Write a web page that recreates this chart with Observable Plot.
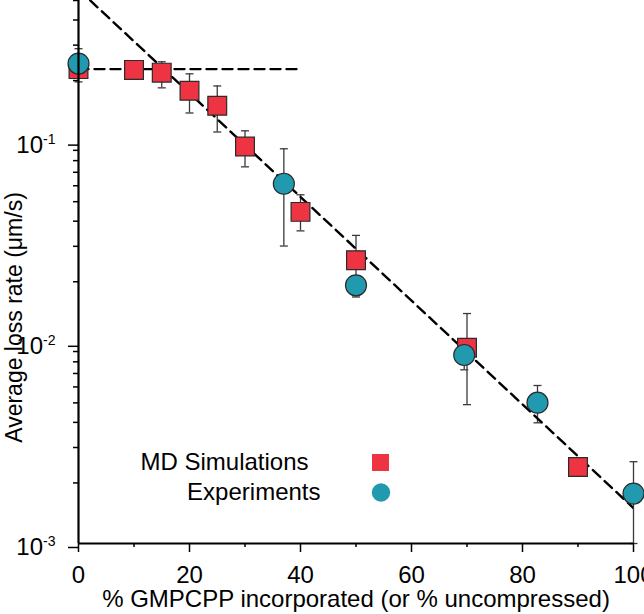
<!DOCTYPE html>
<html><head><meta charset="utf-8">
<script src="https://cdn.jsdelivr.net/npm/d3@7"></script>
<script src="https://cdn.jsdelivr.net/npm/@observablehq/plot@0.6"></script>
<style>
html,body{margin:0;padding:0;background:#fff;}
#chart svg{display:block;}
</style></head><body><div id="chart"></div>
<script>
// ---- data ----
const simX  = [0, 10, 15, 20, 25, 30, 40, 50, 70, 90];
const simY  = [0.228, 0.226, 0.219, 0.178, 0.150, 0.094, 0.0445, 0.0256, 0.0094, 0.0024];
const simLo = [0.197, null, 0.184, 0.138, 0.111, 0.0745, 0.0358, 0.0175, 0.0049, null];
const simHi = [0.288, null, 0.248, 0.216, 0.188, 0.1125, 0.0541, 0.034, 0.0139, null];

const expX  = [0, 37, 50, 69.5, 82.7, 100];
const expY  = [0.243, 0.0614, 0.0192, 0.00865, 0.00501, 0.00177];
const expLo = [null, 0.0301, 0.0168, 0.0073, 0.00398, 0.001];
const expHi = [null, 0.0916, 0.021, 0.0102, 0.0061, 0.00255];

const fitX = [0, 100];
const fitY = [0.567, 0.0015];
const plateauX = [0, 40];
const plateauY = [0.228, 0.228];

const xMajor = [0, 20, 40, 60, 80, 100];
const xMinor = [10, 30, 50, 70, 90];
const yMajor = [0.001, 0.01, 0.1];
const yMinor = [0.002, 0.003, 0.004, 0.005, 0.006, 0.007, 0.008, 0.009,
                0.02, 0.03, 0.04, 0.05, 0.06, 0.07, 0.08, 0.09,
                0.2, 0.3, 0.4, 0.5];

const xLabel = "% GMPCPP incorporated (or % uncompressed)";
const yLabel = "Average loss rate (\u03bcm/s)";
const legendLabels = ["MD Simulations", "Experiments"];

const RED = "#ee3342", TEAL = "#2199ae", EDGE = "#2b2b2b", BAR = "#3a3a3a";

// ---- tables ----
const sim = simX.map((x, i) => ({x, y: simY[i], lo: simLo[i], hi: simHi[i]}));
const exp = expX.map((x, i) => ({x, y: expY[i], lo: expLo[i], hi: expHi[i]}));
const errs = [...sim, ...exp].filter(d => d.lo != null);
const fit = fitX.map((x, i) => ({x, y: fitY[i]}));
const plateau = plateauX.map((x, i) => ({x, y: plateauY[i]}));

const cap = {draw(ctx, size) { const r = Math.sqrt(size / Math.PI); ctx.moveTo(-r, 0); ctx.lineTo(r, 0); }};

const chart = Plot.plot({
  width: 644, height: 614,
  marginLeft: 78, marginRight: 11, marginTop: 0, marginBottom: 71,
  style: {fontFamily: "'Liberation Sans', Arial, sans-serif", background: "#fff", color: "#000"},
  x: {domain: [0, 100]},
  y: {type: "log", domain: [0.001, 0.5]},
  marks: [
    // error bars
    Plot.ruleX(errs, {x: "x", y1: "lo", y2: "hi", stroke: BAR, strokeWidth: 1.3}),
    Plot.dot(errs, {x: "x", y: "lo", symbol: cap, r: 4, stroke: BAR, strokeWidth: 1.3, fill: "none"}),
    Plot.dot(errs, {x: "x", y: "hi", symbol: cap, r: 4, stroke: BAR, strokeWidth: 1.3, fill: "none"}),
    // dashed guide lines
    Plot.line(fit, {x: "x", y: "y", stroke: "#000", strokeWidth: 2.4, strokeDasharray: "10,6", clip: true}),
    Plot.line(plateau, {x: "x", y: "y", stroke: "#000", strokeWidth: 2.4, strokeDasharray: "10,6"}),
    // data points
    Plot.dot(sim, {x: "x", y: "y", symbol: "square", r: 10.6, fill: RED, stroke: EDGE, strokeWidth: 1.2}),
    Plot.dot(exp, {x: "x", y: "y", symbol: "circle", r: 10.5, fill: TEAL, stroke: EDGE, strokeWidth: 1.2}),
    // axes
    Plot.axisX(xMinor, {tickSize: 4, tickFormat: () => "", strokeWidth: 1.5, label: null}),
    Plot.axisX(xMajor, {tickSize: 9, tickPadding: 13, fontSize: 24, strokeWidth: 1.5, label: null}),
    Plot.axisY(yMinor, {tickSize: 5, tickFormat: () => "", strokeWidth: 1.5, label: null}),
    Plot.axisY(yMajor, {tickSize: 10, tickPadding: 13, dy: 4, fontSize: 24, strokeWidth: 1.5, label: null,
      tickFormat: d => "10^" + Math.round(Math.log10(d))}),
    Plot.ruleX([0], {stroke: "#000", strokeWidth: 2.2}),
    Plot.ruleY([0.001], {stroke: "#000", strokeWidth: 2.2}),
    // axis titles
    Plot.text([xLabel], {frameAnchor: "bottom", lineAnchor: "middle", textAnchor: "middle", dy: 56, fontSize: 24, fill: "#000"}),
    Plot.text([yLabel], {frameAnchor: "left", lineAnchor: "middle", textAnchor: "middle", rotate: -90, dx: -63.5, dy: 45.5, fontSize: 23, fill: "#000"}),
    // legend
    Plot.text([legendLabels[0]], {frameAnchor: "top-left", lineAnchor: "middle", textAnchor: "end", dx: 230, dy: 461.5, fontSize: 24, fill: "#000"}),
    Plot.text([legendLabels[1]], {frameAnchor: "top-left", lineAnchor: "middle", textAnchor: "end", dx: 242, dy: 491.5, fontSize: 24, fill: "#000"}),
    Plot.dot([legendLabels[0]], {frameAnchor: "top-left", dx: 302, dy: 462, symbol: "square", r: 9.6, fill: RED}),
    Plot.dot([legendLabels[1]], {frameAnchor: "top-left", dx: 302.5, dy: 492, symbol: "circle", r: 9.2, fill: TEAL})
  ]
});

// superscript exponents on the y tick labels
d3.select(chart).selectAll("text").each(function() {
  const t = this.textContent;
  if (/^10\^-?\d+$/.test(t)) {
    const [base, e] = t.split("^");
    this.textContent = base;
    d3.select(this).append("tspan").attr("dy", -9).attr("font-size", 14).text(e);
  }
});

document.getElementById("chart").append(chart);
</script>
</body></html>
